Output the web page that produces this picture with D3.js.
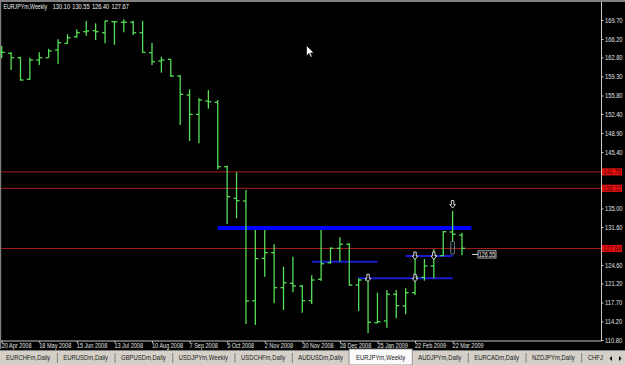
<!DOCTYPE html>
<html>
<head>
<meta charset="utf-8">
<script src="https://cdn.jsdelivr.net/npm/d3@7"></script>
<style>
body { margin: 0; background: #000; overflow: hidden; }
svg { display: block; }
text { font-family: "Liberation Sans", Arial, sans-serif; }
</style>
</head>
<body>
<div id="chart"></div>
<script>
// weekly bars, EURJPYm
var dates = ["2008-04-20","2008-04-27","2008-05-04","2008-05-11","2008-05-18","2008-05-25","2008-06-01","2008-06-08","2008-06-15","2008-06-22","2008-06-29","2008-07-06","2008-07-13","2008-07-20","2008-07-27","2008-08-03","2008-08-10","2008-08-17","2008-08-24","2008-08-31","2008-09-07","2008-09-14","2008-09-21","2008-09-28","2008-10-05","2008-10-12","2008-10-19","2008-10-26","2008-11-02","2008-11-09","2008-11-16","2008-11-23","2008-11-30","2008-12-07","2008-12-14","2008-12-21","2008-12-28","2009-01-04","2009-01-11","2009-01-18","2009-01-25","2009-02-01","2009-02-08","2009-02-15","2009-02-22","2009-03-01","2009-03-08","2009-03-15","2009-03-22","2009-03-29"];
var opens = [163.80,163.57,162.76,158.79,162.34,162.76,164.18,165.41,166.63,167.55,167.73,167.36,169.39,169.28,169.28,167.36,163.68,162.15,162.47,159.39,155.90,152.34,154.79,154.55,142.70,136.88,136.38,118.03,125.84,126.87,120.43,121.24,120.74,118.03,121.97,125.03,127.68,128.42,120.92,121.84,113.98,114.30,119.21,117.06,119.51,122.34,124.42,126.32,130.68,130.10];
var highs = [164.91,163.75,162.94,162.76,163.75,164.42,166.15,167.07,167.99,169.52,169.09,169.57,169.39,169.83,169.57,169.52,165.52,162.94,162.47,159.58,156.94,155.29,156.82,154.97,142.88,141.67,138.41,131.05,131.05,128.41,124.29,126.13,120.92,122.71,131.05,127.86,129.70,128.60,122.16,122.03,119.51,120.00,120.00,120.32,126.13,125.71,127.49,130.86,134.54,130.55];
var lows = [162.65,160.50,158.53,158.66,161.42,162.76,161.60,165.34,166.44,166.81,166.02,165.41,165.15,167.44,166.94,163.68,161.42,160.00,159.26,150.37,147.43,147.01,153.37,142.22,132.15,133.20,113.74,113.56,122.45,117.56,116.32,119.58,115.83,117.43,121.66,124.84,125.21,120.79,116.14,112.03,113.87,113.06,114.79,115.53,119.08,121.72,122.16,126.26,128.89,126.40];
var closes = [163.75,162.76,158.66,162.34,162.76,164.00,165.52,166.44,167.36,167.68,167.55,169.52,169.35,169.28,167.36,163.75,162.02,162.34,159.39,156.02,152.34,154.97,154.66,142.70,137.18,136.44,117.98,125.77,126.87,120.43,121.35,120.74,118.03,121.84,124.84,127.68,128.42,120.92,121.84,114.06,114.17,119.21,117.11,119.51,122.40,124.42,126.32,130.73,130.26,127.67];

var priceTicks = [169.70,166.20,162.80,159.30,155.80,152.40,148.90,145.40,135.00,131.60,124.60,121.20,117.70,114.20,110.80];
var dateTicks = ["2008-04-20","2008-05-18","2008-06-15","2008-07-13","2008-08-10","2008-09-07","2008-10-05","2008-11-02","2008-11-30","2008-12-28","2009-01-25","2009-02-22","2009-03-22"];

var hLines = [141.75, 138.72, 127.64];
var trendFrom = ["2008-09-28","2008-12-07","2009-01-11","2009-02-15"];
var trendTo = ["2009-04-05","2009-01-25","2009-03-22","2009-03-22"];
var trendPrice = [131.42, 125.21, 122.16, 126.26];
var trendWidth = [4, 2, 2, 2];
var arrowDates = ["2009-01-18","2009-02-22","2009-02-22","2009-03-08","2009-03-22"];
var arrowPrices = [122.16, 126.26, 122.16, 126.26, 135.74];
var boxDate = "2009-03-22", boxTop = 128.95, boxBottom = 126.60;
var markPrice = 126.55;

var symbol = "EURJPYm,Weekly";
var quote = ["130.10","130.55","126.40","127.67"];
// last tab is only partly visible before the scroll buttons
var tabs = ["EURCHFm,Daily","EURUSDm,Daily","GBPUSDm,Daily","USDJPYm,Weekly","USDCHFm,Daily","AUDUSDm,Daily","EURJPYm,Weekly","AUDJPYm,Daily","EURCADm,Daily","NZDJPYm,Daily","CHFJ"];
var activeTab = "EURJPYm,Weekly";

var width = 625, height = 365;
var parse = d3.utcParse("%Y-%m-%d");
var fmtDate = d3.utcFormat("%-d %b %Y");

// the screenshot font is narrow, squeeze glyphs horizontally around their x
function squeeze(sel, k) {
    sel.each(function() {
        var t = d3.select(this);
        var x0 = +t.attr("x") || 0;
        var tr = t.attr("transform") || "";
        t.attr("transform", tr + " matrix(" + k + ",0,0,1," + ((1 - k) * x0) + ",0)");
    });
}

var svg = d3.select("#chart").append("svg")
    .attr("width", width)
    .attr("height", height);

svg.append("rect").attr("width", width).attr("height", height).attr("fill", "#000");

var x = d3.scaleUtc()
    .domain([parse(dates[0]), parse(dates[dates.length - 1])])
    .range([1.7, 462]);
var y = d3.scaleLinear()
    .domain([110.80, 169.70])
    .range([340, 20]);

// window frame
svg.append("rect").attr("x", 0).attr("y", 0).attr("width", width).attr("height", 2).attr("fill", "#808080");
svg.append("rect").attr("x", 0).attr("y", 0).attr("width", 1.2).attr("height", 349).attr("fill", "#808080");

var plot = svg.append("g").attr("class", "plot");

// horizontal levels
plot.selectAll("line.level").data(hLines).enter().append("line")
    .attr("class", "level")
    .attr("x1", 1).attr("x2", 601)
    .attr("y1", function(d) { return y(d); })
    .attr("y2", function(d) { return y(d); })
    .attr("stroke", "#a01c1c")
    .attr("stroke-width", 1);

// trend lines
plot.selectAll("line.trend").data(trendPrice).enter().append("line")
    .attr("class", "trend")
    .attr("x1", function(d, i) { return x(parse(trendFrom[i])); })
    .attr("x2", function(d, i) { return x(parse(trendTo[i])); })
    .attr("y1", function(d) { return y(d); })
    .attr("y2", function(d) { return y(d); })
    .attr("stroke", function(d, i) { return i == 0 ? "#0000ff" : "#1a1ad0"; })
    .attr("stroke-width", function(d, i) { return trendWidth[i]; });

// bars
var bars = plot.append("g").attr("class", "bars")
    .attr("stroke", "#55e055")
    .attr("stroke-width", 1.3);
var bar = bars.selectAll("g").data(dates).enter().append("g");
bar.append("line")
    .attr("x1", function(d) { return x(parse(d)); })
    .attr("x2", function(d) { return x(parse(d)); })
    .attr("y1", function(d, i) { return y(highs[i]); })
    .attr("y2", function(d, i) { return y(lows[i]); });
bar.append("line")
    .attr("x1", function(d) { return x(parse(d)) - 3; })
    .attr("x2", function(d) { return x(parse(d)); })
    .attr("y1", function(d, i) { return y(opens[i]); })
    .attr("y2", function(d, i) { return y(opens[i]); });
bar.append("line")
    .attr("x1", function(d) { return x(parse(d)); })
    .attr("x2", function(d) { return x(parse(d)) + 3; })
    .attr("y1", function(d, i) { return y(closes[i]); })
    .attr("y2", function(d, i) { return y(closes[i]); });

// hollow box object
plot.append("rect")
    .attr("x", x(parse(boxDate)) - 1.8)
    .attr("y", y(boxTop))
    .attr("width", 3.6)
    .attr("height", y(boxBottom) - y(boxTop))
    .attr("rx", 1)
    .attr("fill", "none")
    .attr("stroke", "#6a8590")
    .attr("stroke-width", 1);

// down arrows
var arrowPath = "M-1.2,-4 L1.2,-4 L1.2,0 L2.8,0 L0,3.5 L-2.8,0 L-1.2,0 Z";
plot.selectAll("path.arrow").data(arrowPrices).enter().append("path")
    .attr("class", "arrow")
    .attr("d", arrowPath)
    .attr("transform", function(d, i) { return "translate(" + x(parse(arrowDates[i])) + "," + y(d) + ")"; })
    .attr("fill", "#000")
    .attr("stroke", "#e8e8e8")
    .attr("stroke-width", 0.9);

// price mark right of the last bar
var mx = x(parse(dates[dates.length - 1])) + 10;
plot.append("line")
    .attr("x1", mx).attr("x2", mx + 6)
    .attr("y1", y(markPrice)).attr("y2", y(markPrice))
    .attr("stroke", "#ddd");
plot.append("rect")
    .attr("x", mx + 6).attr("y", y(markPrice) - 3.6)
    .attr("width", 18).attr("height", 7.2)
    .attr("fill", "#000").attr("stroke", "#ddd").attr("stroke-width", 0.8);
plot.append("text")
    .attr("x", mx + 15).attr("y", y(markPrice) + 2.4)
    .attr("text-anchor", "middle")
    .attr("fill", "#eee")
    .attr("font-size", 6.8)
    .text(d3.format(".2f")(markPrice))
    .call(squeeze, 0.8);

// right price axis
var yAxis = d3.axisRight(y)
    .tickValues(priceTicks)
    .tickSize(2)
    .tickPadding(1.5)
    .tickFormat(d3.format(".2f"));
var ya = svg.append("g")
    .attr("transform", "translate(601.5,0)")
    .call(yAxis);
ya.select(".domain").attr("stroke", "#c8c8c8").attr("d", "M0,2V341");
ya.selectAll(".tick line").attr("stroke", "#c8c8c8");
ya.selectAll(".tick text").attr("fill", "#e0e0e0").attr("font-size", 7.2).call(squeeze, 0.8);

// level labels on the axis
var lab = svg.append("g").selectAll("g").data(hLines).enter().append("g")
    .attr("transform", function(d) { return "translate(602," + y(d) + ")"; });
lab.append("rect")
    .attr("x", 0).attr("y", -3.6)
    .attr("width", 20).attr("height", 7.2)
    .attr("fill", "#e01010");
lab.append("text")
    .attr("x", 10).attr("y", 2.5)
    .attr("text-anchor", "middle")
    .attr("fill", "#5a0000")
    .attr("font-size", 7.2)
    .text(function(d) { return d3.format(".2f")(d); })
    .call(squeeze, 0.8);

// bottom time axis
var xAxis = d3.axisBottom(x)
    .tickValues(dateTicks.map(parse))
    .tickSize(2)
    .tickFormat(fmtDate);
var xa = svg.append("g")
    .attr("transform", "translate(0,341)")
    .call(xAxis);
xa.select(".domain").attr("stroke", "#c8c8c8").attr("d", "M1,0H601.5");
xa.selectAll(".tick line").attr("stroke", "#c8c8c8");
xa.selectAll(".tick text")
    .attr("text-anchor", "start")
    .attr("x", -0.5)
    .attr("y", 2.2)
    .attr("fill", "#e0e0e0")
    .attr("font-size", 7)
    .call(squeeze, 0.79);

// header
svg.append("text")
    .attr("x", 3.5).attr("y", 9.3)
    .attr("fill", "#f0f0f0").attr("font-size", 7.2)
    .text(symbol)
    .call(squeeze, 0.73);
svg.selectAll("text.quote").data(quote).enter().append("text")
    .attr("class", "quote")
    .attr("x", function(d, i) { return 52.7 + i * 19.6; })
    .attr("y", 9.3)
    .attr("fill", "#f0f0f0").attr("font-size", 7.2)
    .text(function(d) { return d; })
    .call(squeeze, 0.79);

// mouse pointer
svg.append("path")
    .attr("d", "M0,0 L0,11 L2.6,8.4 L4.4,12.4 L6,11.7 L4.3,7.8 L7.8,7.8 Z")
    .attr("transform", "translate(306.5,45.5) scale(0.95)")
    .attr("fill", "#fff").attr("stroke", "#000").attr("stroke-width", 0.7);

// tab strip
var tabY = 350, tabK = 0.823;
svg.append("rect").attr("x", 0).attr("y", tabY).attr("width", width).attr("height", height - tabY).attr("fill", "#d4d0c8");
svg.append("line").attr("x1", 0).attr("x2", width).attr("y1", tabY + 0.5).attr("y2", tabY + 0.5).attr("stroke", "#808080");
var tg = svg.append("g").attr("class", "tabs");
var tx = 6;
tabs.forEach(function(name, i) {
    var t = tg.append("text")
        .attr("x", tx).attr("y", 360.5)
        .attr("fill", "#202020").attr("font-size", 7.2)
        .text(name);
    var w = t.node().getComputedTextLength() * tabK;
    t.call(squeeze, tabK);
    if (name == activeTab) {
        tg.insert("rect", "text")
            .attr("x", tx - 7).attr("y", tabY - 1)
            .attr("width", w + 14).attr("height", height - tabY + 1)
            .attr("fill", "#fafafa").attr("stroke", "#808080").attr("stroke-width", 0.8);
    } else if (tabs[i + 1] != activeTab && i < tabs.length - 1) {
        tg.append("line")
            .attr("x1", tx + w + 7).attr("x2", tx + w + 7)
            .attr("y1", 353).attr("y2", 363)
            .attr("stroke", "#808080");
    }
    tx += w + 13;
});
// scroll buttons
svg.append("rect").attr("x", 604).attr("y", 351).attr("width", 21).attr("height", 14).attr("fill", "#d4d0c8");
svg.append("path").attr("d", "M612,356 L612,361 L609.5,358.5 Z").attr("fill", "#000");
svg.append("path").attr("d", "M619,356 L619,361 L621.5,358.5 Z").attr("fill", "#000");
</script>
</body>
</html>
